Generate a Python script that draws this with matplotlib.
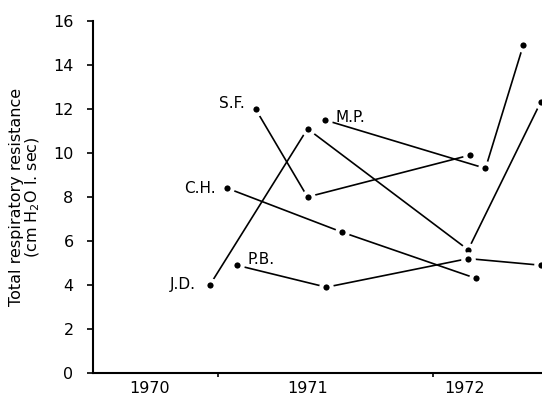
import numpy as np
import matplotlib.pyplot as plt

# ------------------------------------------------------------
# Data
# ------------------------------------------------------------

jd_x = [1970.38, 1971.00, 1972.02, 1972.48]
jd_y = [4.0, 11.1, 5.6, 12.3]

sf_x = [1970.67, 1971.00, 1972.03]
sf_y = [12.0, 8.0, 9.9]

mp_x = [1971.11, 1972.13, 1972.37]
mp_y = [11.5, 9.3, 14.9]

ch_x = [1970.49, 1971.22, 1972.07]
ch_y = [8.4, 6.4, 4.3]

pb_x = [1970.55, 1971.12, 1972.02, 1972.48]
pb_y = [4.9, 3.9, 5.2, 4.9]

subjects = ["J.D.", "S.F.", "M.P.", "C.H.", "P.B."]
series_x = [jd_x, sf_x, mp_x, ch_x, pb_x]
series_y = [jd_y, sf_y, mp_y, ch_y, pb_y]

years = [1970, 1971, 1972]
minor_ticks = [1970.43, 1971.80]
y_ticks = [0, 2, 4, 6, 8, 10, 12, 14, 16]

# label placement: (point index, offset in points, ha)
label_pos = {
    "J.D.": (0, (-10, 0), "right"),
    "S.F.": (0, (-8, 4), "right"),
    "M.P.": (0, (8, 2), "left"),
    "C.H.": (0, (-8, 0), "right"),
    "P.B.": (0, (8, 4), "left"),
}

# ------------------------------------------------------------
# Plot
# ------------------------------------------------------------

fig = plt.figure(figsize=(5.42, 3.95), dpi=100)
ax = fig.add_axes([0.1716, 0.0557, 0.8284, 0.8912])

for name, xs, ys in zip(subjects, series_x, series_y):
    ax.plot(xs, ys, color="black", linewidth=1.2, marker="o",
            markersize=7.5, markerfacecolor="black",
            markeredgecolor="white", markeredgewidth=3.0,
            clip_on=False, zorder=3)
    idx, offset, ha = label_pos[name]
    ax.annotate(name, (xs[idx], ys[idx]), xytext=offset,
                textcoords="offset points", ha=ha, va="center",
                fontsize=11)

ax.set_xlim(1969.638, 1972.489)
ax.set_ylim(0, 16)

ax.spines["top"].set_visible(False)
ax.spines["right"].set_visible(False)
ax.spines["left"].set_linewidth(1.5)
ax.spines["bottom"].set_linewidth(1.5)

ax.set_yticks(y_ticks)
ax.tick_params(axis="y", direction="out", length=4, width=1.2,
               labelsize=11.5, pad=10)

ax.set_xticks(years)
ax.set_xticklabels([str(y) for y in years])
ax.set_xticks(minor_ticks, minor=True)
ax.tick_params(axis="x", which="major", length=0, labelsize=11.5, pad=6)
ax.tick_params(axis="x", which="minor", direction="out", length=3, width=1.2)

ax.set_ylabel("Total respiratory resistance\n(cm H$_2$O l. sec)",
              fontsize=11.5, labelpad=8, linespacing=1.0)

fig.savefig("out.png", dpi=100)
